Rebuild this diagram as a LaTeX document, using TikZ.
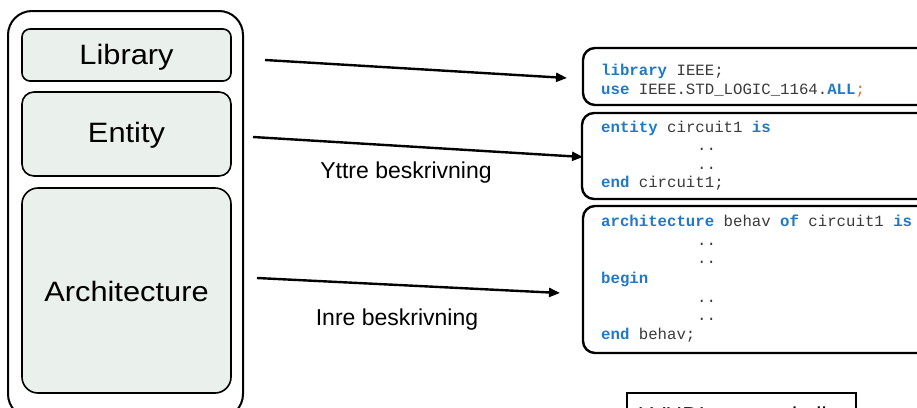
\documentclass[tikz,border=0pt]{standalone}
\usepackage{fontspec}
\setmainfont{Liberation Sans}
\newfontfamily\codefont{Liberation Mono}
\usetikzlibrary{arrows.meta}
\definecolor{boxfill}{HTML}{EAF0EC}
\definecolor{kw}{HTML}{1F78C8}
\definecolor{codetxt}{HTML}{3A3A3A}
\definecolor{semi}{HTML}{D07A1E}
\newcommand{\kwd}[1]{{\bfseries\color{kw}#1}}
\begin{document}
\begin{tikzpicture}[x=1pt,y=-1pt,
  part/.style={draw=black,line width=1.6pt,fill=boxfill,rounded corners=9pt},
  outerbox/.style={draw=black,line width=2pt,rounded corners=24pt},
  codebox/.style={draw=black,line width=2.4pt,rounded corners=12pt},
  bigtxt/.style={font=\fontsize{28}{32}\selectfont},
  lbl/.style={font=\fontsize{23}{27}\selectfont,anchor=base},
  codeln/.style={anchor=base west,inner sep=0pt,text=codetxt,font=\codefont\fontsize{15.7}{18.7}\selectfont},
  arr/.style={line width=2.4pt,-{Triangle[length=11pt,width=9pt]}}]
\useasboundingbox (0,0) rectangle (917,407);
\clip (0,0) rectangle (917,407);
% left structure
\draw[outerbox] (8,11) rectangle (243,418);
\draw[part,rounded corners=8pt] (22,29) rectangle (231,81);
\draw[part,rounded corners=12pt] (22,92) rectangle (231,176);
\draw[part,rounded corners=16pt] (22,188) rectangle (231,393);
\node[bigtxt] (lib) at (126.5,57) {\scalebox{1.1}[1]{Library}};
\node[bigtxt] (ent) at (126.5,135) {\scalebox{1.1}[1]{Entity}};
\node[bigtxt] (arch) at (126.5,291) {\scalebox{1.1}[1]{Architecture}};
% code boxes
\draw[codebox] (583,48) rectangle (930,105);
\draw[codebox] (582,113) rectangle (930,199);
\draw[codebox] (583,206) rectangle (930,353);
\node[codeln] (c1a) at (601,75) {\kwd{library} IEEE;};
\node[codeln] (c1b) at (601,94) {\kwd{use} IEEE.STD\_LOGIC\_1164.\kwd{ALL}{\color{semi};}};
\node[codeln] (c2a) at (601,132) {\kwd{entity} circuit1 \kwd{is}};
\node[codeln] (c2b) at (697,150.5) {..};
\node[codeln] (c2c) at (697,169) {..};
\node[codeln] (c2d) at (601,187.5) {\kwd{end} circuit1;};
\node[codeln] (c3a) at (601,226) {\kwd{architecture} behav \kwd{of} circuit1 \kwd{is}};
\node[codeln] (c3b) at (697,245) {..};
\node[codeln] (c3c) at (697,263.5) {..};
\node[codeln] (c3d) at (601,283) {\kwd{begin}};
\node[codeln] (c3e) at (697,302) {..};
\node[codeln] (c3f) at (697,320.5) {..};
\node[codeln] (c3g) at (601,339) {\kwd{end} behav;};
% arrows
\coordinate (s1) at (265,60);
\coordinate (e1) at (567,78);
\coordinate (s2) at (253,137);
\coordinate (e2) at (583,157);
\coordinate (s3) at (257,278);
\coordinate (e3) at (560,293);
\draw[arr] (s1) -- (e1);
\draw[arr] (s2) -- (e2);
\draw[arr] (s3) -- (e3);
\node[lbl] (yt) at (406,178) {Yttre beskrivning};
\node[lbl] (inre) at (397,325) {Inre beskrivning};
% bottom partial box
\draw[line width=1.3pt] (627,393) rectangle (856,440);
\node[font=\fontsize{23}{27}\selectfont,anchor=base west] (note) at (634,423) {I VHDL-termer kallas};
\end{tikzpicture}
\end{document}
